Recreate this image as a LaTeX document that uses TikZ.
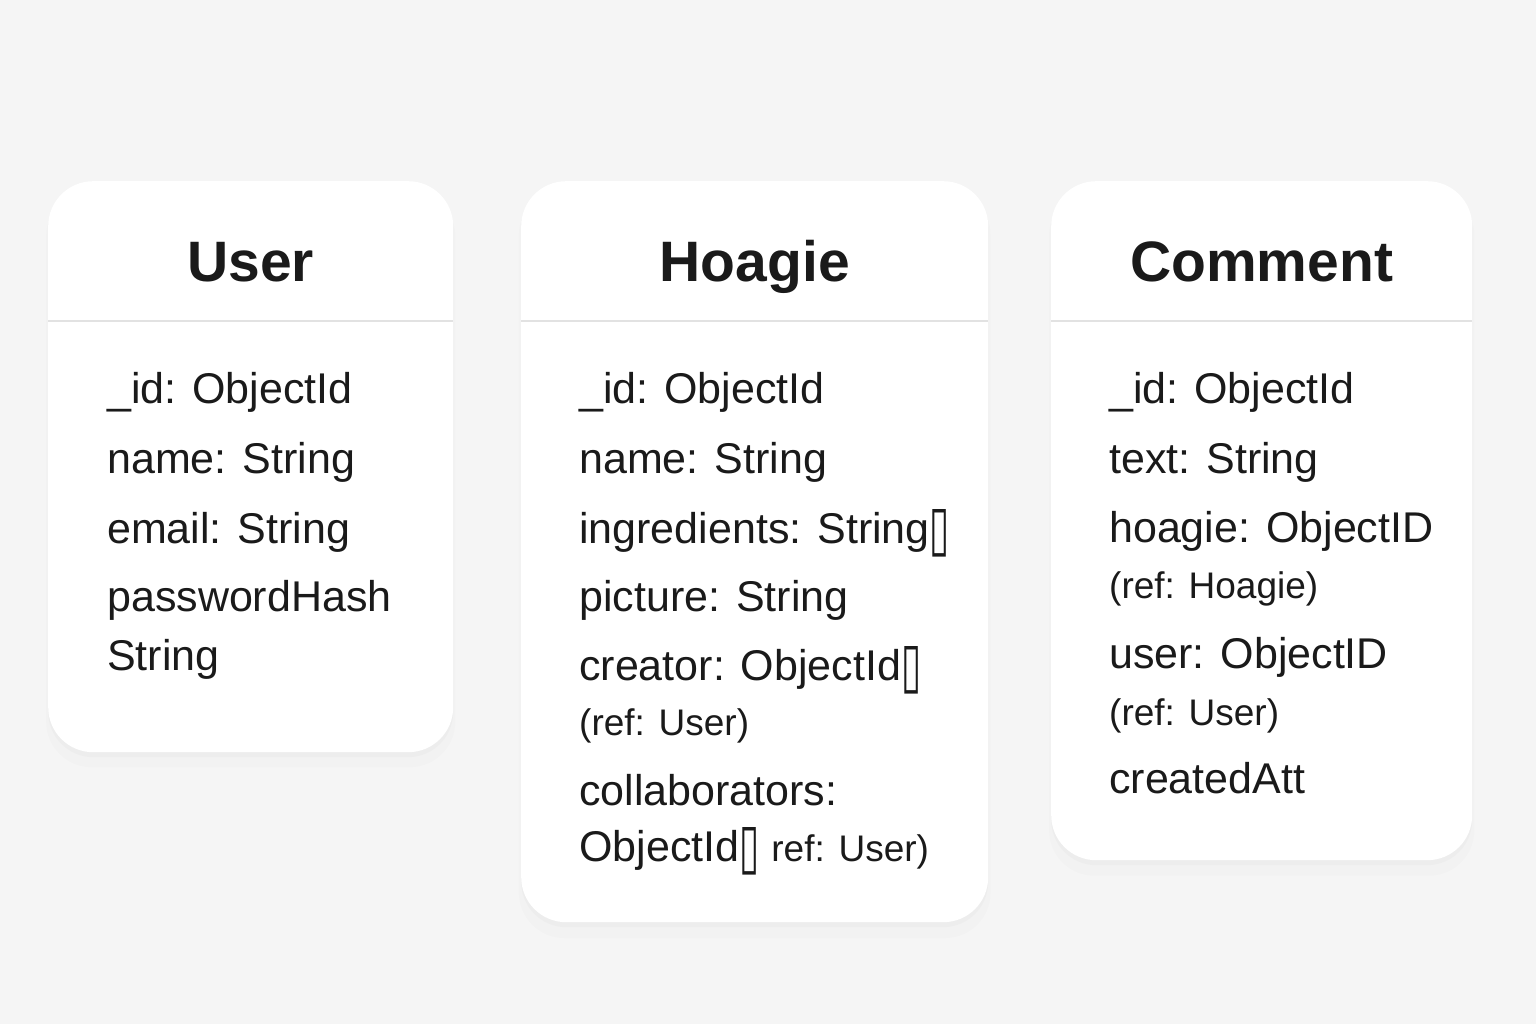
\documentclass[tikz,border=0pt]{standalone}
\usepackage{fontspec}
\usepackage{graphicx}
\setmainfont{Liberation Sans}
\newfontfamily\boxfont{DejaVu Sans}
\usetikzlibrary{shadows}

\definecolor{bg}{HTML}{F5F5F5}
\definecolor{ink}{HTML}{1A1A1A}
\definecolor{rule}{HTML}{E2E2E2}

\newcommand{\nobox}{\raisebox{-6pt}{\scalebox{0.85}[1.45]{\boxfont\char"25AF}}}
\newcommand{\fieldfont}{\fontsize{43}{50}\selectfont}
\newcommand{\reffont}{\fontsize{37}{44}\selectfont}

\tikzset{
  card/.style={fill=white, draw=none, rounded corners=45pt, anchor=north west,
    inner sep=0pt,
    drop shadow={shadow xshift=0pt, shadow yshift=-5pt, opacity=0.035},
    drop shadow={shadow xshift=0pt, shadow yshift=-12pt, shadow scale=1.01, opacity=0.025}},
  divider/.style={draw=rule, line width=1.5pt},
  title/.style={anchor=base, inner sep=0pt, text=ink, font=\fontsize{57}{60}\selectfont\bfseries},
  field/.style={anchor=base west, inner sep=0pt, text=ink, font=\fieldfont},
  reffield/.style={field, font=\reffont}
}

\begin{document}
\begin{tikzpicture}[x=1pt, y=-1pt]
  \fill[bg] (0,0) rectangle (1536,1024);
  \useasboundingbox (0,0) rectangle (1536,1024);

  % cards
  \node[card, minimum width=405pt, minimum height=571pt] (user) at (48,181) {};
  \node[card, minimum width=467pt, minimum height=741pt] (hoagie) at (521,181) {};
  \node[card, minimum width=421pt, minimum height=679pt] (comment) at (1051,181) {};

  \draw[divider] (user.west |- 0,321) -- (user.east |- 0,321);
  \draw[divider] (hoagie.west |- 0,321) -- (hoagie.east |- 0,321);
  \draw[divider] (comment.west |- 0,321) -- (comment.east |- 0,321);

  % titles
  \node[title] (usertitle) at (user.north |- 0,282) {User};
  \node[title] (hoagietitle) at (hoagie.north |- 0,282) {Hoagie};
  \node[title] (commenttitle) at (comment.north |- 0,282) {Comment};

  % User
  \node[field] (uid) at (107,403) {\_id: ObjectId};
  \node[field] (uname) at (107,473) {name: String};
  \node[field] (uemail) at (107,543) {email: String};
  \node[field] (upass) at (107,611) {passwordHash};
  \node[field] (upasstype) at (107,670) {String};

  % Hoagie
  \node[field] (hid) at (579,403) {\_id: ObjectId};
  \node[field] (hname) at (579,473) {name: String};
  \node[field] (hingr) at (579,543) {ingredients: String\nobox};
  \node[field] (hpic) at (579,611) {picture: String};
  \node[field] (hcreator) at (579,680) {creator: ObjectId\nobox};
  \node[reffield] (hcreatorref) at (579,735) {(ref: User)};
  \node[field] (hcollab) at (579,805) {collaborators:};
  \node[field] (hcollabtype) at (579,861) {ObjectId\nobox\ {\reffont ref: User)}};

  % Comment
  \node[field] (cid) at (1109,403) {\_id: ObjectId};
  \node[field] (ctext) at (1109,473) {text: String};
  \node[field] (choagie) at (1109,542) {hoagie: ObjectID};
  \node[reffield] (choagieref) at (1109,598) {(ref: Hoagie)};
  \node[field] (cuser) at (1109,668) {user: ObjectID};
  \node[reffield] (cuserref) at (1109,725) {(ref: User)};
  \node[field] (cdate) at (1109,793) {createdAtt};
\end{tikzpicture}
\end{document}
